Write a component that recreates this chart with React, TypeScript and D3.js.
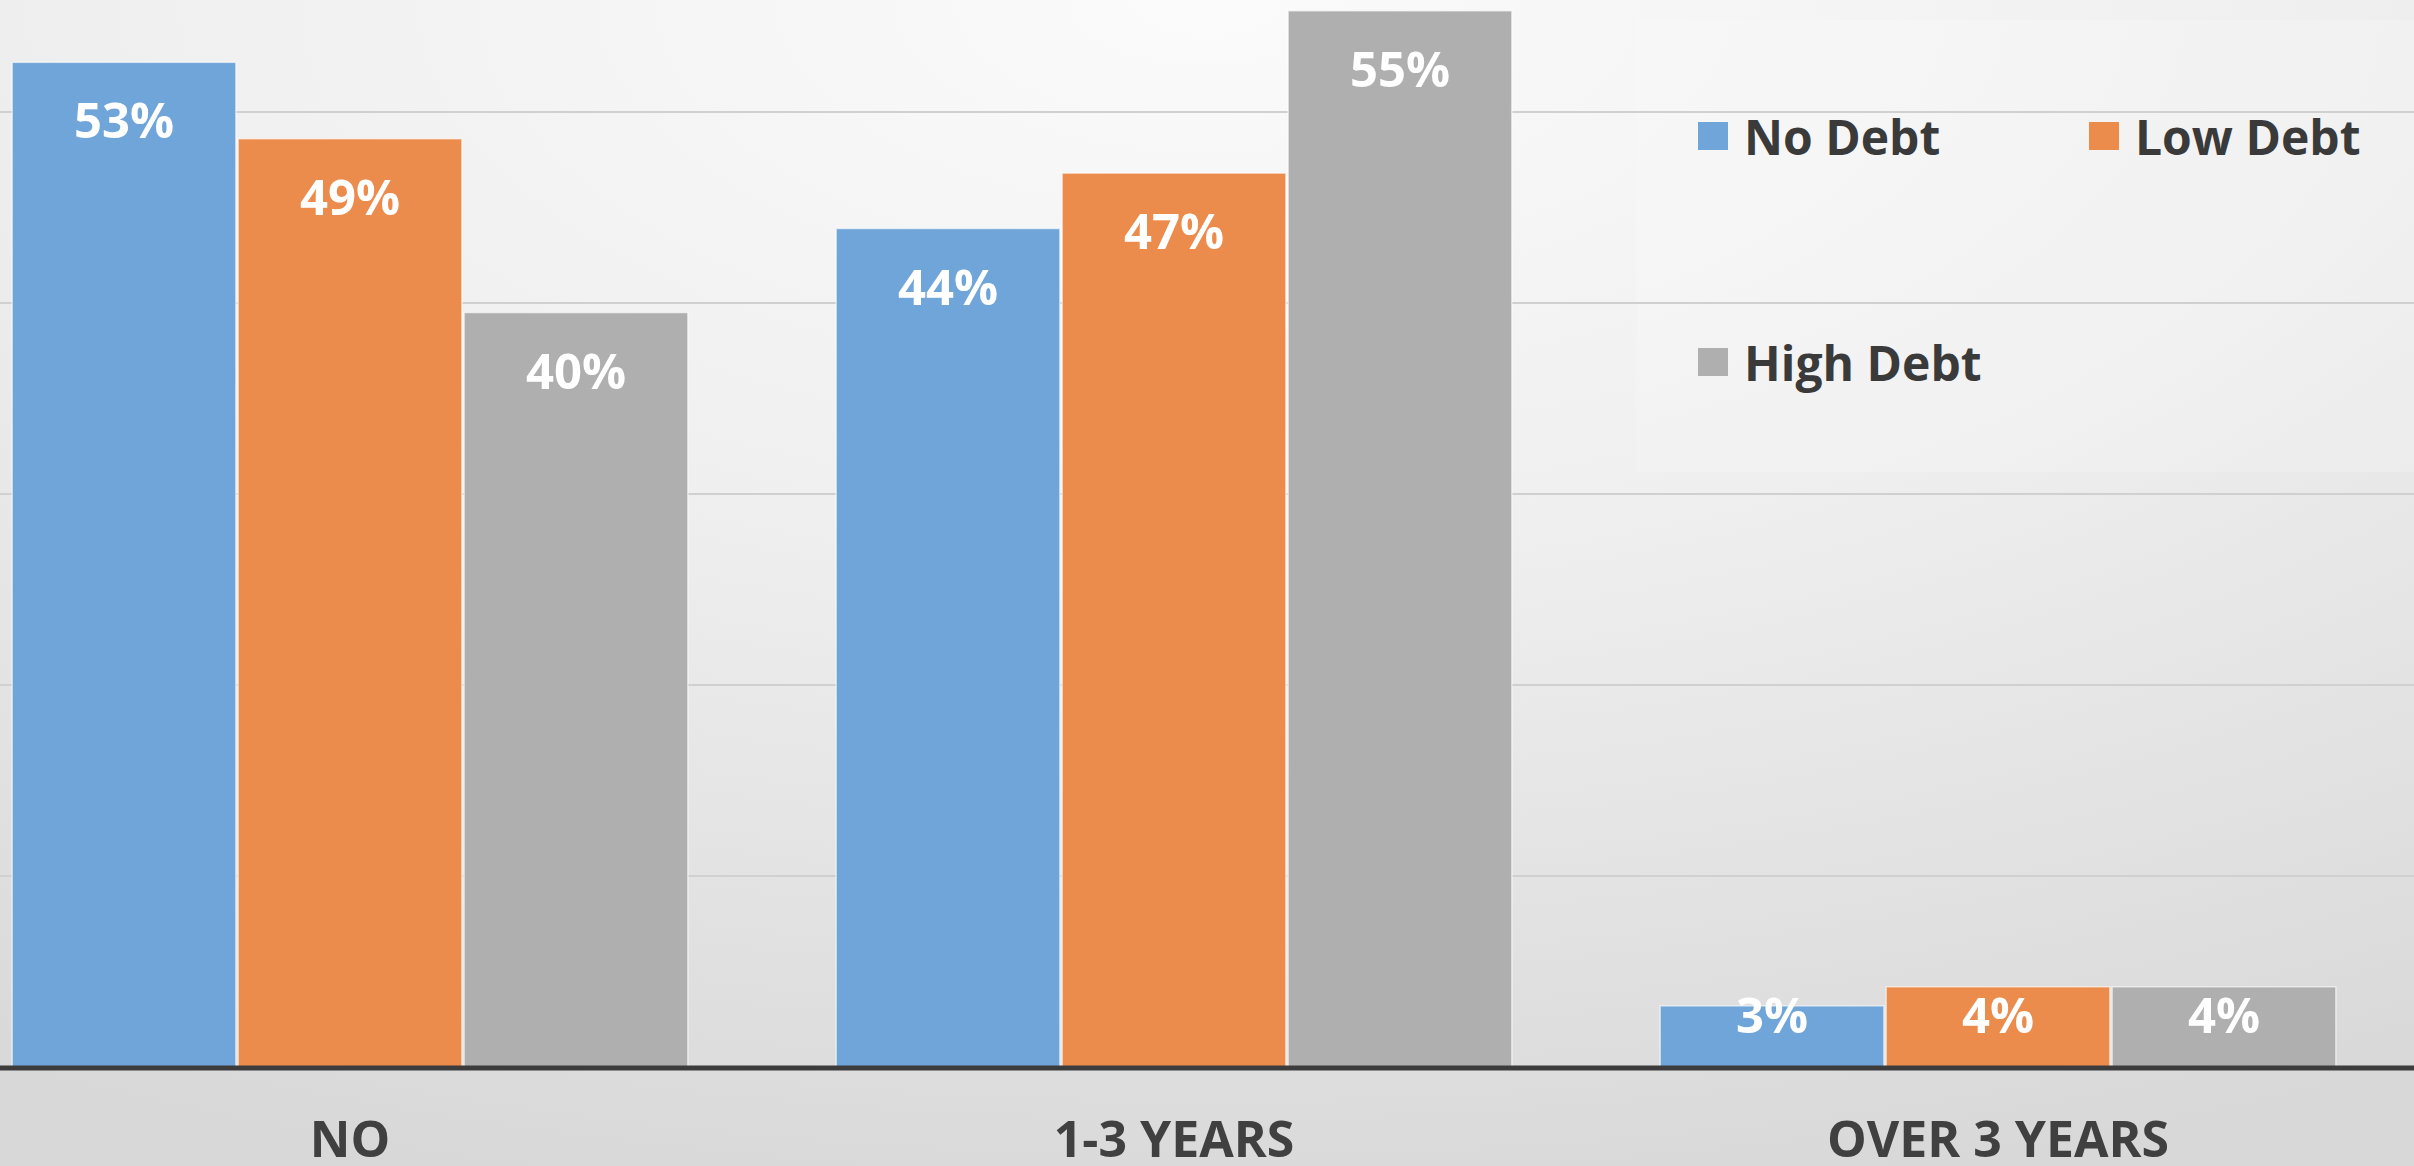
import React, { useEffect } from "react";
import * as d3 from "d3";

const categories = ["NO", "1-3 YEARS", "OVER 3 YEARS"];
const seriesNames = ["No Debt", "Low Debt", "High Debt"];
const noDebt = [0.526, 0.439, 0.032];
const lowDebt = [0.486, 0.468, 0.042];
const highDebt = [0.395, 0.553, 0.042];
const seriesValues = [noDebt, lowDebt, highDebt];
const seriesColors = ["#6fa5d8", "#eb8b4c", "#afafaf"];
const gridTicks = [0.1, 0.2, 0.3, 0.4, 0.5];

const W = 2414;
const H = 1166;

export default function App() {
  useEffect(() => {
    document.body.style.margin = "0";
    document.body.style.overflow = "hidden";
  }, []);

  const x0 = d3.scaleBand<string>().domain(categories).range([-62, 2410]).paddingInner(0.18).paddingOuter(0.09);
  const x1 = d3.scaleBand<string>().domain(seriesNames).range([0, x0.bandwidth()]).paddingInner(0.01).paddingOuter(0);
  const y = d3.scaleLinear().domain([0, 0.6]).range([1067, -79]);
  const fmt = d3.format(".0%");
  const font = "'Open Sans', 'DejaVu Sans', sans-serif";

  const legendPos = [
    { x: 1698, y: 122 },
    { x: 2089, y: 122 },
    { x: 1698, y: 348 },
  ];

  return (
    <svg width={W} height={H} style={{ display: "block" }} fontFamily={font}>
      <defs>
        <radialGradient id="bg" cx="0.5" cy="0" r="1.05" fx="0.5" fy="0">
          <stop offset="0" stopColor="#fbfbfb" />
          <stop offset="0.45" stopColor="#efefef" />
          <stop offset="1" stopColor="#d8d8d8" />
        </radialGradient>
      </defs>
      <rect x={0} y={0} width={W} height={H} fill="url(#bg)" />
      {/* legend box */}
      <rect x={1636} y={20} width={778} height={452} fill="#ffffff" fillOpacity={0.18} />
      {gridTicks.map((t) => (
        <line key={t} x1={0} x2={W} y1={y(t)} y2={y(t)} stroke="#d0d0d0" strokeWidth={2} />
      ))}
      {categories.map((c, ci) => (
        <g key={c} transform={`translate(${x0(c)},0)`}>
          {seriesNames.map((s, si) => {
            const v = seriesValues[si][ci];
            const bx = x1(s)!;
            const top = y(v);
            const ly = Math.min(top + 76, y(0) - 34);
            return (
              <g key={s}>
                <rect x={bx} y={top} width={x1.bandwidth()} height={y(0) - top} fill={seriesColors[si]} stroke="#ffffff" strokeOpacity={0.6} strokeWidth={1.5} />
                <text x={bx + x1.bandwidth() / 2} y={ly} textAnchor="middle" fill="#ffffff" fontWeight="bold" fontSize={49}>
                  {fmt(v)}
                </text>
              </g>
            );
          })}
          <text x={x0.bandwidth() / 2} y={1157} textAnchor="middle" fill="#404040" fontWeight="bold" fontSize={50}>
            {c}
          </text>
        </g>
      ))}
      <line x1={0} x2={W} y1={1068} y2={1068} stroke="#3c3c3c" strokeWidth={5} />
      {seriesNames.map((s, i) => (
        <g key={s}>
          <rect x={legendPos[i].x} y={legendPos[i].y} width={30} height={28} fill={seriesColors[i]} />
          <text x={legendPos[i].x + 46} y={legendPos[i].y + 33} fill="#3a3a3a" fontWeight="bold" fontSize={48}>
            {s}
          </text>
        </g>
      ))}
    </svg>
  );
}
